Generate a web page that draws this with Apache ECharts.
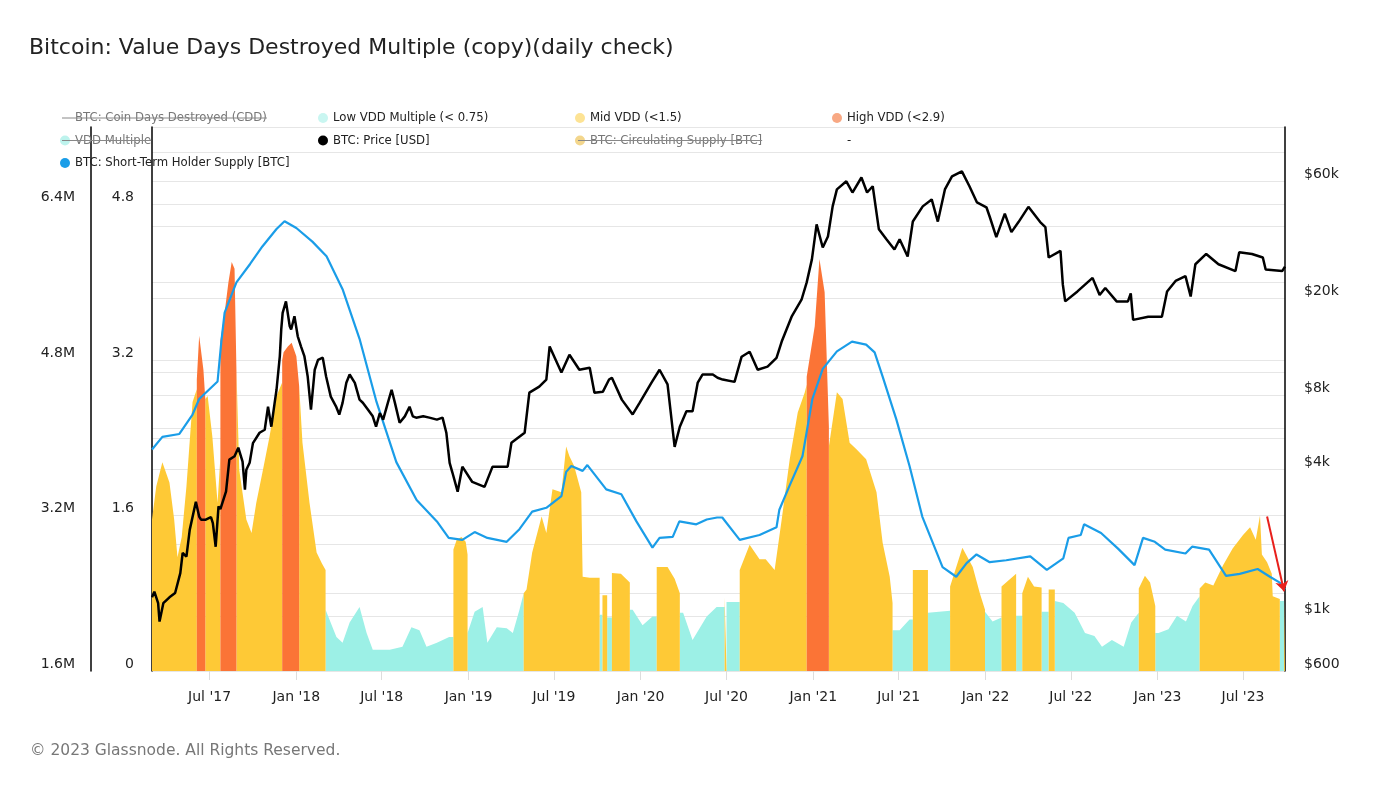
<!DOCTYPE html>
<html><head><meta charset="utf-8">
<script src="https://cdn.jsdelivr.net/npm/echarts@6/dist/echarts.min.js"></script>
<style>html,body{margin:0;padding:0;background:#fff}#c{width:1400px;height:788px}</style>
</head><body><div id="c"></div>
<script>
// ---------- tick labels ----------
const xTicks = ['2017-07-01','2018-01-01','2018-07-01','2019-01-01','2019-07-01','2020-01-01','2020-07-01','2021-01-01','2021-07-01','2022-01-01','2022-07-01','2023-01-01','2023-07-01'];
const xRange = ['2017-03-01', '2023-09-28'];
const vddTicks = [0, 1.6, 3.2, 4.8];
const sthTicks = [1.6, 3.2, 4.8, 6.4];
const priceTicks = [600, 1000, 4000, 8000, 20000, 60000];

// ---------- series names ----------
const N_CDD = 'BTC: Coin Days Destroyed (CDD)';
const N_LOW = 'Low VDD Multiple (< 0.75)';
const N_MID = 'Mid VDD (<1.5)';
const N_HIGH = 'High VDD (<2.9)';
const N_VDD = 'VDD Multiple';
const N_PRICE = 'BTC: Price [USD]';
const N_CIRC = 'BTC: Circulating Supply [BTC]';
const N_DASH = '-';
const N_STH = 'BTC: Short-Term Holder Supply [BTC]';

// ---------- BTC price (USD) ----------
const price = [
['2017-03-01',1200],['2017-03-06',1265],['2017-03-14',1135],['2017-03-17',955],['2017-03-25',1135],['2017-04-07',1200],['2017-04-19',1250],['2017-04-30',1506],['2017-05-05',1820],['2017-05-13',1760],['2017-05-20',2262],['2017-06-02',2950],['2017-06-09',2565],['2017-06-13',2490],['2017-06-23',2490],['2017-07-04',2550],['2017-07-08',2410],['2017-07-14',1930],['2017-07-20',2820],['2017-07-24',2750],['2017-08-05',3250],['2017-08-12',4380],['2017-08-23',4520],['2017-08-31',4900],['2017-09-09',4300],['2017-09-14',3300],['2017-09-17',3985],['2017-09-24',4250],['2017-10-01',5117],['2017-10-15',5640],['2017-10-26',5800],['2017-11-02',7200],['2017-11-09',5970],['2017-11-16',7470],['2017-11-20',8450],['2017-11-27',11600],['2017-11-30',14900],['2017-12-03',17400],['2017-12-10',19400],['2017-12-18',15350],['2017-12-21',14900],['2017-12-28',16860],['2018-01-04',13970],['2018-01-11',12680],['2018-01-18',11600],['2018-01-25',9600],['2018-02-01',7010],['2018-02-09',10200],['2018-02-16',11200],['2018-02-26',11430],['2018-03-05',9600],['2018-03-15',7920],['2018-03-26',7230],['2018-04-02',6690],['2018-04-09',7470],['2018-04-17',9020],['2018-04-24',9750],['2018-05-05',9020],['2018-05-15',7700],['2018-05-22',7480],['2018-06-02',7000],['2018-06-12',6580],['2018-06-19',5970],['2018-06-27',6790],['2018-07-04',6380],['2018-07-14',7470],['2018-07-22',8450],['2018-07-29',7470],['2018-08-08',6200],['2018-08-19',6580],['2018-08-29',7200],['2018-09-05',6580],['2018-09-12',6500],['2018-09-27',6580],['2018-10-10',6500],['2018-10-26',6380],['2018-11-07',6500],['2018-11-15',5640],['2018-11-22',4250],['2018-11-28',3870],['2018-12-09',3240],['2018-12-19',4100],['2019-01-09',3550],['2019-02-04',3390],['2019-02-21',4100],['2019-03-25',4100],['2019-04-02',5130],['2019-04-30',5640],['2019-05-10',8220],['2019-05-31',8700],['2019-06-15',9300],['2019-06-22',12700],['2019-07-03',11400],['2019-07-17',9930],['2019-08-03',11750],['2019-08-24',10200],['2019-09-15',10400],['2019-09-25',8220],['2019-10-13',8300],['2019-10-26',9300],['2019-11-01',9460],['2019-11-22',7700],['2019-12-15',6700],['2019-12-30',7480],['2020-01-24',9040],['2020-02-10',10200],['2020-02-27',8880],['2020-03-13',4940],['2020-03-24',5970],['2020-04-07',6900],['2020-04-20',6900],['2020-05-01',9040],['2020-05-11',9750],['2020-06-02',9750],['2020-06-12',9460],['2020-06-23',9300],['2020-07-18',9100],['2020-08-02',11530],['2020-08-19',12080],['2020-09-05',10200],['2020-09-26',10500],['2020-10-15',11400],['2020-10-26',13300],['2020-11-16',16800],['2020-12-07',19700],['2020-12-18',23200],['2020-12-29',28800],['2021-01-08',40000],['2021-01-21',32200],['2021-02-01',35700],['2021-02-11',47400],['2021-02-20',55600],['2021-03-12',60000],['2021-03-25',54000],['2021-04-13',62200],['2021-04-25',54000],['2021-05-07',57300],['2021-05-20',38200],['2021-06-05',34800],['2021-06-22',31600],['2021-07-03',34800],['2021-07-20',29600],['2021-07-31',41100],['2021-08-21',47400],['2021-09-09',50600],['2021-09-22',41100],['2021-10-07',55600],['2021-10-22',62800],['2021-11-12',65900],['2021-11-28',57300],['2021-12-14',49200],['2022-01-03',47000],['2022-01-10',43000],['2022-01-24',35500],['2022-02-11',44300],['2022-02-25',37200],['2022-03-12',40900],['2022-04-02',47200],['2022-04-27',40900],['2022-05-08',39000],['2022-05-15',29300],['2022-06-09',31200],['2022-06-14',22700],['2022-06-19',19400],['2022-07-15',21300],['2022-08-16',24200],['2022-08-31',20600],['2022-09-12',22000],['2022-10-06',19400],['2022-10-30',19400],['2022-11-05',20900],['2022-11-10',16300],['2022-12-12',16800],['2023-01-10',16800],['2023-01-21',21300],['2023-02-08',23500],['2023-03-01',24600],['2023-03-12',20300],['2023-03-22',27500],['2023-04-14',30300],['2023-05-10',27500],['2023-06-15',25800],['2023-06-23',30800],['2023-07-20',30300],['2023-08-12',29300],['2023-08-18',26200],['2023-09-22',25800],['2023-09-28',26900]
];

// ---------- Short-term holder supply (millions BTC) ----------
const sthSupply = [
['2017-03-01',3.88],['2017-03-23',4.01],['2017-04-28',4.04],['2017-05-26',4.24],['2017-06-09',4.40],['2017-07-18',4.58],['2017-07-26',4.99],['2017-08-02',5.29],['2017-08-27',5.60],['2017-09-25',5.79],['2017-10-21',5.97],['2017-11-20',6.15],['2017-12-07',6.23],['2018-01-01',6.16],['2018-02-04',6.02],['2018-03-06',5.87],['2018-04-09',5.53],['2018-05-15',5.02],['2018-06-20',4.37],['2018-08-01',3.75],['2018-09-13',3.36],['2018-10-26',3.14],['2018-11-20',2.97],['2018-12-19',2.95],['2019-01-14',3.03],['2019-02-10',2.97],['2019-03-23',2.93],['2019-04-19',3.06],['2019-05-16',3.24],['2019-06-15',3.28],['2019-07-17',3.40],['2019-07-27',3.65],['2019-08-07',3.71],['2019-08-31',3.66],['2019-09-10',3.72],['2019-10-20',3.47],['2019-11-21',3.42],['2019-12-23',3.14],['2020-01-26',2.87],['2020-02-10',2.97],['2020-03-09',2.98],['2020-03-23',3.14],['2020-04-28',3.11],['2020-05-20',3.16],['2020-06-11',3.18],['2020-06-22',3.18],['2020-07-29',2.95],['2020-09-09',3.00],['2020-10-15',3.08],['2020-10-21',3.26],['2020-11-11',3.50],['2020-12-09',3.81],['2020-12-30',4.40],['2021-01-21',4.71],['2021-02-20',4.89],['2021-03-24',4.99],['2021-04-23',4.96],['2021-05-11',4.88],['2021-05-28',4.63],['2021-06-26',4.19],['2021-07-24',3.71],['2021-08-20',3.19],['2021-10-02',2.67],['2021-10-31',2.57],['2021-11-22',2.71],['2021-12-13',2.80],['2022-01-10',2.72],['2022-02-14',2.74],['2022-04-06',2.78],['2022-05-11',2.64],['2022-06-15',2.76],['2022-06-26',2.97],['2022-07-22',3.00],['2022-07-29',3.11],['2022-09-03',3.02],['2022-10-09',2.86],['2022-11-13',2.69],['2022-12-01',2.97],['2022-12-26',2.93],['2023-01-17',2.85],['2023-03-01',2.81],['2023-03-15',2.88],['2023-04-20',2.85],['2023-05-26',2.58],['2023-06-24',2.60],['2023-08-01',2.65],['2023-08-27',2.57],['2023-09-17',2.51],['2023-09-28',2.44]
];

// ---------- VDD multiple, split by band (each inner list is one run of days) ----------
const lowVdd = [
 [['2018-03-04',0.63],['2018-03-27',0.35],['2018-04-09',0.29],['2018-04-24',0.50],['2018-05-15',0.66],['2018-05-30',0.39],['2018-06-12',0.22],['2018-07-18',0.22],['2018-08-14',0.25],['2018-09-02',0.45],['2018-09-19',0.42],['2018-10-04',0.25],['2018-10-26',0.29],['2018-11-21',0.35],['2018-11-30',0.35]],
 [['2018-12-30',0.39],['2019-01-03',0.39],['2019-01-14',0.61],['2019-01-31',0.66],['2019-02-10',0.29],['2019-03-02',0.45],['2019-03-23',0.44],['2019-04-05',0.39],['2019-04-19',0.63],['2019-04-28',0.80]],
 [['2019-10-06',0.58],['2019-10-12',0.58]],
 [['2019-10-22',0.55],['2019-11-01',0.55]],
 [['2019-12-09',0.63],['2019-12-15',0.63],['2020-01-05',0.47],['2020-01-26',0.56],['2020-02-04',0.56]],
 [['2020-03-24',0.60],['2020-03-31',0.60],['2020-04-20',0.32],['2020-05-20',0.56],['2020-06-10',0.66],['2020-06-27',0.66]],
 [['2020-07-01',0.71],['2020-07-29',0.71]],
 [['2021-06-18',0.42],['2021-07-03',0.42],['2021-07-24',0.53],['2021-07-31',0.53]],
 [['2021-09-01',0.60],['2021-10-18',0.62]],
 [['2021-12-31',0.61],['2022-01-16',0.51],['2022-02-04',0.55]],
 [['2022-03-07',0.57],['2022-03-20',0.57]],
 [['2022-04-30',0.61],['2022-05-15',0.61]],
 [['2022-05-28',0.72],['2022-06-15',0.70],['2022-07-09',0.60],['2022-07-31',0.39],['2022-08-20',0.36],['2022-09-05',0.25],['2022-09-26',0.32],['2022-10-21',0.25],['2022-11-06',0.50],['2022-11-22',0.60]],
 [['2022-12-27',0.39],['2023-01-03',0.39],['2023-01-24',0.43],['2023-02-11',0.57],['2023-03-02',0.51],['2023-03-16',0.67],['2023-03-31',0.77]],
 [['2023-09-17',0.72],['2023-09-26',0.72]]
];
const midVdd = [
 [['2017-03-01',1.56],['2017-03-10',1.90],['2017-03-23',2.15],['2017-04-07',1.94],['2017-04-17',1.56],['2017-04-24',1.17],['2017-05-03',1.38],['2017-05-13',1.90],['2017-05-26',2.77],['2017-06-04',2.90]],
 [['2017-06-22',2.80],['2017-06-27',2.83],['2017-07-07',2.41],['2017-07-18',1.73],['2017-07-24',2.20]],
 [['2017-08-27',3.10],['2017-09-02',2.07],['2017-09-17',1.56],['2017-09-28',1.42],['2017-10-08',1.73],['2017-10-21',2.04],['2017-11-05',2.41],['2017-11-20',2.83],['2017-12-02',2.97]],
 [['2018-01-07',2.93],['2018-01-14',2.35],['2018-01-29',1.73],['2018-02-13',1.22],['2018-02-24',1.11],['2018-03-04',1.04]],
 [['2018-11-30',1.25],['2018-12-07',1.35],['2018-12-17',1.38],['2018-12-26',1.33],['2018-12-30',1.20]],
 [['2019-04-28',0.80],['2019-05-04',0.84],['2019-05-16',1.22],['2019-06-05',1.59],['2019-06-15',1.42],['2019-06-28',1.87],['2019-07-17',1.84],['2019-07-27',2.31],['2019-08-03',2.21],['2019-08-13',2.11],['2019-08-28',1.84],['2019-08-31',0.97],['2019-09-15',0.96],['2019-10-06',0.96]],
 [['2019-10-12',0.78],['2019-10-22',0.78]],
 [['2019-11-01',1.01],['2019-11-20',1.00],['2019-12-09',0.91]],
 [['2020-02-04',1.07],['2020-02-10',1.07],['2020-02-27',1.07],['2020-03-13',0.95],['2020-03-24',0.80]],
 [['2020-06-27',0.76],['2020-07-01',0.76]],
 [['2020-07-29',1.04],['2020-08-19',1.30],['2020-09-09',1.15],['2020-09-22',1.15],['2020-10-11',1.04],['2020-10-26',1.56],['2020-11-12',2.18],['2020-11-29',2.66],['2020-12-14',2.87],['2020-12-18',2.95]],
 [['2021-02-03',2.31],['2021-02-20',2.87],['2021-03-04',2.80],['2021-03-19',2.35],['2021-04-03',2.28],['2021-04-23',2.18],['2021-05-15',1.84],['2021-05-28',1.32],['2021-06-12',0.97],['2021-06-18',0.70]],
 [['2021-07-31',1.04],['2021-09-01',1.04]],
 [['2021-10-18',0.87],['2021-11-13',1.27],['2021-12-05',1.07],['2021-12-20',0.80],['2021-12-31',0.63]],
 [['2022-02-04',0.87],['2022-03-07',1.00]],
 [['2022-03-20',0.80],['2022-04-01',0.97],['2022-04-14',0.87],['2022-04-30',0.86]],
 [['2022-05-15',0.84],['2022-05-28',0.84]],
 [['2022-11-22',0.85],['2022-12-05',0.98],['2022-12-16',0.91],['2022-12-27',0.67]],
 [['2023-03-31',0.85],['2023-04-12',0.91],['2023-04-29',0.88],['2023-05-20',1.09],['2023-06-09',1.26],['2023-07-01',1.40],['2023-07-16',1.48],['2023-07-28',1.35],['2023-08-06',1.60],['2023-08-10',1.20],['2023-08-21',1.12],['2023-08-31',1.00],['2023-09-02',0.77],['2023-09-17',0.74]],
 [['2023-09-26',0.72],['2023-09-28',0.72]]
];
const highVdd = [
 [['2017-06-04',3.00],['2017-06-09',3.45],['2017-06-13',3.45],['2017-06-18',3.10],['2017-06-22',2.80]],
 [['2017-07-24',3.40],['2017-08-02',3.69],['2017-08-10',4.00],['2017-08-17',4.21],['2017-08-23',4.14],['2017-08-27',3.10]],
 [['2017-12-02',3.20],['2017-12-05',3.28],['2017-12-14',3.34],['2017-12-22',3.38],['2018-01-01',3.24],['2018-01-07',2.93]],
 [['2020-12-18',3.03],['2021-01-04',3.55],['2021-01-14',4.24],['2021-01-25',3.90],['2021-02-03',2.52]]
];

// ---------- annotation arrow (date, STH supply in M) ----------
const arrowStart = ['2023-08-21', 3.19];
const arrowEnd = ['2023-09-26', 2.42];

// ---------- build ----------
const ts = d => Date.parse(d + 'T00:00:00Z');
const pts = arr => arr.map(p => [ts(p[0]), p[1]]);
function joinRuns(runs) {
  const out = [];
  runs.forEach((run, i) => {
    if (i) out.push([ts(run[0][0]), null]);
    run.forEach(p => out.push([ts(p[0]), p[1]]));
  });
  return out;
}
const MONTHS = ['Jan','Feb','Mar','Apr','May','Jun','Jul','Aug','Sep','Oct','Nov','Dec'];
const FONT = 'DejaVu Sans';
const GRID = '#e6e6e6';

function areaSeries(name, runs, color) {
  return {
    name, type: 'line', yAxisIndex: 0, data: joinRuns(runs),
    symbol: 'none', showSymbol: false, connectNulls: false,
    lineStyle: { width: 0 }, itemStyle: { color },
    areaStyle: { color, opacity: 1 }, z: 1, silent: true
  };
}
function emptySeries(name) {
  return { name, type: 'line', yAxisIndex: 0, data: [], symbol: 'none' };
}

const legendCommon = {
  orient: 'vertical', top: 111, padding: 0, itemWidth: 10, itemHeight: 10, itemGap: 8.5,
  icon: 'circle', selectedMode: false,
  textStyle: { fontSize: 11.7, fontFamily: FONT, color: '#222', lineHeight: 14 }
};

const chart = echarts.init(document.getElementById('c'), null, { renderer: 'canvas' });
const option = {
  animation: false,
  backgroundColor: '#fff',
  title: [
    { text: 'Bitcoin: Value Days Destroyed Multiple (copy)(daily check)', left: 29, top: 37, padding: 0,
      textStyle: { fontSize: 22, fontWeight: 'normal', color: '#222', fontFamily: FONT } },
    { text: '© 2023 Glassnode. All Rights Reserved.', left: 30, top: 743, padding: 0,
      textStyle: { fontSize: 15.5, fontWeight: 'normal', color: '#777', fontFamily: FONT } }
  ],
  legend: [
    Object.assign({}, legendCommon, { left: 60, data: [
      { name: N_CDD, itemStyle: { color: 'rgba(0,0,0,0)' }, textStyle: { color: '#777' } },
      { name: N_VDD, itemStyle: { color: '#bdf3ed' }, textStyle: { color: '#777' } },
      { name: N_STH, itemStyle: { color: '#1a9de8' } }
    ] }),
    Object.assign({}, legendCommon, { left: 318, data: [
      { name: N_LOW, itemStyle: { color: '#c9f6f1' } },
      { name: N_PRICE, itemStyle: { color: '#000' } }
    ] }),
    Object.assign({}, legendCommon, { left: 575, data: [
      { name: N_MID, itemStyle: { color: '#fde394' } },
      { name: N_CIRC, itemStyle: { color: '#f3d68c' }, textStyle: { color: '#777' } }
    ] }),
    Object.assign({}, legendCommon, { left: 832, data: [
      { name: N_HIGH, itemStyle: { color: '#f8a883' } },
      { name: N_DASH, itemStyle: { color: 'rgba(0,0,0,0)' } }
    ] })
  ],
  grid: { left: 152, right: 115, top: 127, height: 544, containLabel: false },
  xAxis: {
    type: 'value', min: ts(xRange[0]), max: ts(xRange[1]),
    axisLine: { show: false },
    axisTick: { show: true, customValues: xTicks.map(ts), length: 9, lineStyle: { color: '#dddddd' } },
    axisLabel: {
      customValues: xTicks.map(ts), margin: 19, fontSize: 14, color: '#222', fontFamily: FONT,
      formatter: v => { const d = new Date(v); return MONTHS[d.getUTCMonth()] + " '" + String(d.getUTCFullYear()).slice(2); }
    },
    splitLine: { show: false }
  },
  yAxis: [
    { type: 'value', position: 'left', min: 0, max: 5.6, interval: 0.8,
      axisLine: { show: true, onZero: false, lineStyle: { color: '#000', width: 1.5 } },
      axisTick: { show: false },
      axisLabel: { customValues: vddTicks, margin: 18, fontSize: 14, color: '#222', fontFamily: FONT, verticalAlign: 'bottom',
        formatter: v => v === 0 ? '0' : v.toFixed(1) },
      splitLine: { show: true, lineStyle: { color: GRID, width: 1.2 } } },
    { type: 'value', position: 'left', offset: 61, min: 1.6, max: 7.2, interval: 0.8,
      axisLine: { show: true, onZero: false, lineStyle: { color: '#000', width: 1.5 } },
      axisTick: { show: false },
      axisLabel: { customValues: sthTicks, margin: 16, fontSize: 14, color: '#222', fontFamily: FONT, verticalAlign: 'bottom',
        formatter: v => v.toFixed(1) + 'M' },
      splitLine: { show: false } },
    { type: 'log', logBase: 10, position: 'right', min: 600, max: 100000,
      axisLine: { show: true, onZero: false, lineStyle: { color: '#000', width: 1.5 } },
      axisTick: { show: false, customValues: priceTicks },
      axisLabel: { customValues: priceTicks, margin: 19, fontSize: 14, color: '#222', fontFamily: FONT, verticalAlign: 'bottom',
        formatter: v => v >= 1000 ? '$' + Math.round(v / 1000) + 'k' : '$' + Math.round(v) },
      splitLine: { show: true, lineStyle: { color: GRID, width: 1.2 } } },
    { type: 'value', position: 'right', min: 0, max: 544, inverse: true,
      axisLine: { show: false }, axisLabel: { show: false },
      axisTick: { show: false, customValues: [25, 99, 245, 301, 417] },
      splitLine: { show: true, lineStyle: { color: GRID, width: 1.2 } } }
  ],
  series: [
    emptySeries(N_CDD),
    areaSeries(N_LOW, lowVdd, '#9cf0e6'),
    areaSeries(N_MID, midVdd, '#fec936'),
    areaSeries(N_HIGH, highVdd, '#fb7436'),
    emptySeries(N_VDD),
    emptySeries(N_CIRC),
    emptySeries(N_DASH),
    { name: N_STH, type: 'line', yAxisIndex: 1, data: pts(sthSupply), symbol: 'none', showSymbol: false, z: 3,
      lineStyle: { color: '#1a9de8', width: 2.2 }, itemStyle: { color: '#1a9de8' },
      markLine: { silent: true, symbol: ['none', 'arrow'], symbolSize: 10, label: { show: false },
        lineStyle: { color: '#e8201c', width: 2, type: 'solid' },
        data: [[{ coord: [ts(arrowStart[0]), arrowStart[1]] }, { coord: [ts(arrowEnd[0]), arrowEnd[1]] }]] } },
    { name: N_PRICE, type: 'line', yAxisIndex: 2, data: pts(price), symbol: 'none', showSymbol: false, z: 4,
      lineStyle: { color: '#000', width: 2.5 }, itemStyle: { color: '#000' } }
  ]
};
chart.setOption(option);

// strike-through marks on the legend entries that are switched off in the original
(function () {
  const ctx = document.createElement('canvas').getContext('2d');
  ctx.font = '11.7px "' + FONT + '"';
  const strikes = [
    { x0: 62, textX: 75, y: 118, text: N_CDD },
    { x0: 62, textX: 75, y: 140.5, text: N_VDD },
    { x0: 578, textX: 590, y: 140.5, text: N_CIRC }
  ];
  chart.setOption({
    graphic: strikes.map(s => ({
      type: 'line', silent: true, z: 100,
      shape: { x1: s.x0, y1: s.y, x2: s.textX + ctx.measureText(s.text).width, y2: s.y },
      style: { stroke: '#888', lineWidth: 1 }
    }))
  });
})();
</script>
</body></html>
